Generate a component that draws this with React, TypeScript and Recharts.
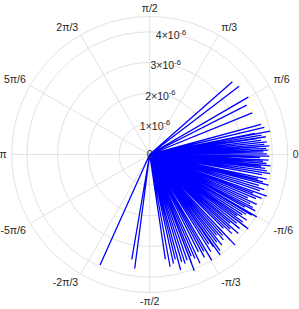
import { ReferenceDot, ReferenceLine, Scatter, ScatterChart, XAxis, YAxis } from "recharts";

// ray angles (degrees) and lengths (x 1e-6)
const rayAngles = [
  41.3, 37.4, 30.2, 27.0, 22.1, 15.2, 13.3, 11.0, 11.3, 9.8, 8.7, 8.5, 7.2, 6.2, 5.0, 4.1, 4.0, 3.0,
  2.1, 1.3, 0.3, -0.8, -1.6, -2.7, -3.5, -4.4, -5.4, -6.1, -6.9, -8.0, -9.0, -10.2, -11.9, -12.8,
  -13.6, -14.5, -15.8, -17.0, -18.2, -19.6, -20.5, -21.4, -22.6, -23.8, -25.0, -26.1, -27.2, -28.1,
  -29.0, -30.2, -30.7, -31.8, -33.0, -34.1, -35.0, -36.0, -37.0, -37.1, -38.3, -39.5, -40.6, -41.7,
  -42.8, -43.9, -45.0, -46.7, -46.8, -48.0, -49.2, -50.3, -51.5, -52.6, -53.8, -55.0, -55.4, -56.6,
  -57.8, -59.6, -60.8, -62.0, -63.4, -65.2, -66.5, -67.8, -69.0, -68.9, -70.5, -72.0, -73.4, -75.0,
  -76.3, -77.7, -79.7, -81.5, -97.5, -99.7, -114.2,
];
const rayLengths = [
  3.59, 3.67, 3.72, 3.55, 3.61, 3.76, 3.84, 4.0, 3.5, 3.7, 3.83, 3.53, 3.66, 3.84, 3.75, 3.91, 3.61, 3.8,
  3.87, 3.71, 3.82, 3.9, 3.6, 3.88, 3.7, 3.82, 3.96, 3.65, 3.79, 3.86, 3.97, 3.72, 3.9, 3.62,
  3.8, 4.0, 3.7, 3.91, 3.78, 4.05, 3.6, 3.92, 3.75, 3.5, 3.85, 3.65, 3.78, 3.9,
  3.55, 4.04, 3.87, 3.7, 3.6, 3.82, 3.48, 3.75, 3.96, 4.03, 3.62, 3.8, 3.45, 3.87,
  3.58, 3.72, 3.4, 4.06, 3.83, 3.55, 3.68, 3.42, 3.78, 3.6, 3.88, 4.0, 3.66, 3.5,
  3.74, 4.0, 3.62, 3.8, 3.55, 3.91, 3.7, 3.58, 4.06, 3.81, 3.66, 3.74, 3.65, 3.9,
  3.52, 3.64, 3.72, 3.45, 3.75, 3.47, 3.95,
];

const radialTicks = [0, 1, 2, 3, 4];
const radialTickLabels = ["0", "1×10", "2×10", "3×10", "4×10"];
const radialExponent = "-6";

const angleTicks = [0, 30, 60, 90, 120, 150, 180, 210, 240, 270, 300, 330];
const angleTickLabels = ["0", "π/6", "π/3", "π/2", "2π/3", "5π/6", "π", "-5π/6", "-2π/3", "-π/2", "-π/3", "-π/6"];

const UNIT = 1e-6;
const RMAX = 4.5 * UNIT;
const HALF = 138; // px radius of the outer ring
const OUTER = 158; // px half size of the plot square (room for the angle labels)
const DMAX = (RMAX * OUTER) / HALF;
const PAD = 10;
const FONT = "'Liberation Sans', Arial, sans-serif";
const GRID = "#e2e2e2";
const rad = (d: number) => (d * Math.PI) / 180;

const rayData: { x: number; y: number }[] = [];
rayAngles.forEach((a, i) => {
  const r = rayLengths[i] * UNIT;
  rayData.push({ x: 0, y: 0 });
  rayData.push({ x: r * Math.cos(rad(a)), y: r * Math.sin(rad(a)) });
});
rayData.push({ x: 0, y: 0 });

const labelR = (RMAX * (HALF + 5)) / HALF;
const angleLabelData = angleTicks.map((a, i) => ({
  x: labelR * Math.cos(rad(a)),
  y: labelR * Math.sin(rad(a)),
  a,
  text: angleTickLabels[i],
}));

const radialLabelData = radialTicks.map((t, i) => ({
  x: t * UNIT * Math.cos(rad(80)),
  y: t * UNIT * Math.sin(rad(80)),
  text: radialTickLabels[i],
  exp: t === 0 ? "" : radialExponent,
}));

const noDot = () => <g />;

function AngleLabel(props: any) {
  const { cx, cy, payload } = props;
  const c = Math.cos(rad(payload.a));
  const s = Math.sin(rad(payload.a));
  const anchor = c > 0.2 ? "start" : c < -0.2 ? "end" : "middle";
  const dy = s > 0.2 ? "0" : s < -0.2 ? "0.75em" : "0.35em";
  return (
    <text x={cx} y={cy} dy={dy} textAnchor={anchor} fontSize={10.5} fontFamily={FONT} fill="#262626">
      {payload.text}
    </text>
  );
}

function RadialLabel(props: any) {
  const { cx, cy, payload } = props;
  return (
    <text x={cx} y={cy + (payload.exp ? 5.5 : 3.5)} textAnchor="middle" fontSize={10.5} fontFamily={FONT} fill="#262626">
      <tspan>{payload.text}</tspan>
      {payload.exp ? (
        <tspan dy={-4.5} fontSize={7.5}>
          {payload.exp}
        </tspan>
      ) : null}
    </text>
  );
}

export default function App() {
  const cx = 149.7 + PAD;
  const cy = 154.5 + PAD;
  const w = 299 + 2 * PAD;
  const h = 309 + 2 * PAD;
  return (
    <div style={{ position: "absolute", left: -PAD, top: -PAD, background: "#fff" }}>
      <ScatterChart
        width={w}
        height={h}
        margin={{ top: cy - OUTER, bottom: h - cy - OUTER, left: cx - OUTER, right: w - cx - OUTER }}
      >
        <XAxis type="number" dataKey="x" domain={[-DMAX, DMAX]} hide allowDataOverflow />
        <YAxis type="number" dataKey="y" domain={[-DMAX, DMAX]} hide allowDataOverflow />
        {angleTicks.map((a) => (
          <ReferenceLine
            key={"s" + a}
            segment={[
              { x: 0, y: 0 },
              { x: RMAX * Math.cos(rad(a)), y: RMAX * Math.sin(rad(a)) },
            ]}
            stroke={GRID}
            strokeWidth={1}
            ifOverflow="visible"
          />
        ))}
        {[1, 2, 3, 4, 4.5].map((k) => (
          <ReferenceDot
            key={"c" + k}
            x={0}
            y={0}
            r={(k * UNIT * HALF) / RMAX}
            fill="none"
            stroke={GRID}
            strokeWidth={1}
            ifOverflow="visible"
          />
        ))}
        <Scatter
          data={rayData}
          line={{ stroke: "#0000ff", strokeWidth: 1.3 }}
          lineType="joint"
          shape={noDot}
          isAnimationActive={false}
        />
        <Scatter data={radialLabelData} shape={RadialLabel} isAnimationActive={false} />
        <Scatter data={angleLabelData} shape={AngleLabel} isAnimationActive={false} />
      </ScatterChart>
    </div>
  );
}
